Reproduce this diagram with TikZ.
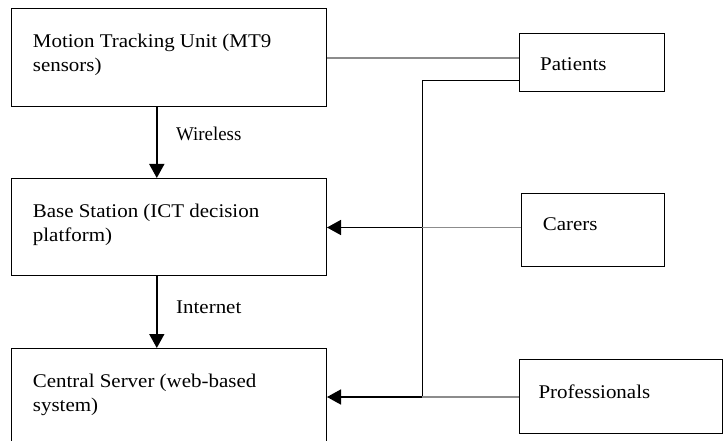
\documentclass[tikz,border=0pt]{standalone}
\usepackage{fontspec}
\setmainfont{Liberation Serif}[FakeStretch=1.08]
\usetikzlibrary{arrows.meta}
\definecolor{lgray}{gray}{0.55}
\tikzset{
  box/.style={draw=black, line width=1pt, inner sep=0pt, anchor=north west, fill=white},
  txt/.style={anchor=base west, inner sep=0pt, font=\fontsize{19.4}{24.6}\selectfont},
  feed/.style={draw=lgray, line width=1.8pt},
  arr/.style={draw=black, line width=1.6pt, -{Triangle[length=14pt,width=15pt]}},
  thin/.style={draw=black, line width=1pt}
}
\begin{document}
\begin{tikzpicture}[x=1pt,y=-1pt]
\useasboundingbox (0,0) rectangle (723,441);
% boxes
\node[box, minimum width=315pt, minimum height=98pt] (mtu) at (11,8) {};
\node[box, minimum width=315pt, minimum height=97pt] (base) at (11,178) {};
\node[box, minimum width=315pt, minimum height=120pt] (cs) at (11,348) {};
\node[box, minimum width=145pt, minimum height=58pt] (pat) at (519,33) {};
\node[box, minimum width=143pt, minimum height=73pt] (car) at (521,193) {};
\node[box, minimum width=202.5pt, minimum height=74pt] (pro) at (519,359) {};
% texts
\node[txt] (tmtu) at (32.7,47.3) {\begin{tabular}[t]{@{}l@{}}Motion Tracking Unit (MT9\\sensors)\end{tabular}};
\node[txt] (tbase) at (32.7,217) {\begin{tabular}[t]{@{}l@{}}Base Station (ICT decision\\platform)\end{tabular}};
\node[txt] (tcs) at (32.7,387) {\begin{tabular}[t]{@{}l@{}}Central Server (web-based\\system)\end{tabular}};
\node[txt] (tpat) at (540,70.7) {Patients};
\node[txt] (tcar) at (542.7,230) {Carers};
\node[txt] (tpro) at (538.3,398.3) {Professionals};
\node[txt, xscale=0.9, transform shape] (twl) at (176,140.7) {Wireless};
\node[txt] (tin) at (176,313.3) {Internet};
% helper coordinates
\coordinate (ax) at (156.8,0);
\coordinate (y1) at (0,58.3);
\coordinate (y2) at (0,81);
\coordinate (jc) at (422,227.5);
\coordinate (jp) at (422,397);
% connectors
\draw[arr] (mtu.south -| ax) -- (base.north -| ax);
\draw[arr] (base.south -| ax) -- (cs.north -| ax);
\draw[feed] (mtu.east |- y1) -- (pat.west |- y1);
\draw[thin] (pat.west |- y2) -- (jc |- y2) -- (jp);
\draw[feed] (car.west |- jc) -- (jc);
\draw[arr] (jc) -- (base.east |- jc);
\draw[feed] (pro.west |- jp) -- (jp);
\draw[arr] (jp) -- (cs.east |- jp);
\end{tikzpicture}
\end{document}
